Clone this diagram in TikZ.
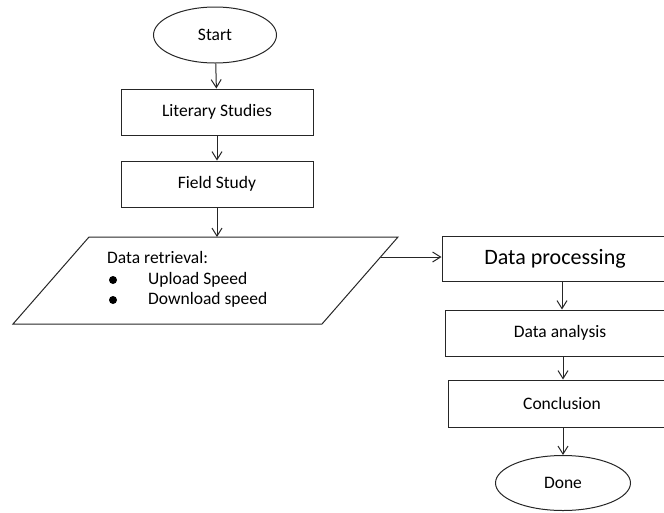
\documentclass[tikz,border=0pt]{standalone}
\usepackage{fontspec}
\setmainfont{Carlito}
\usetikzlibrary{shapes.geometric,arrows.meta}
\tikzset{
  lbl/.style={font=\fontsize{17.5}{20}\selectfont},
  box/.style={draw=black!85, line width=1pt, rectangle, inner sep=0pt, lbl},
  term/.style={draw=black!85, line width=1pt, ellipse, inner sep=0pt, lbl},
  arr/.style={draw=black!85, line width=1pt, -{Straight Barb[length=8pt,width=10pt,line width=1pt]}},
  txt/.style={lbl, inner sep=0pt, anchor=west}
}
\begin{document}
\begin{tikzpicture}[x=1pt,y=-1pt]
\useasboundingbox (0,0) rectangle (664,512);
\clip (0,0) rectangle (664,512);
\node[term, minimum width=123pt, minimum height=56pt] (start) at (215,35) {Start};
\node[box, minimum width=192pt, minimum height=46pt] (lit) at (217,112) {Literary Studies};
\node[box, minimum width=192pt, minimum height=46pt] (field) at (217,184) {Field Study};
% parallelogram
\coordinate (tl) at (89,237);
\coordinate (tr) at (398,237);
\coordinate (br) at (322,324);
\coordinate (bl) at (13,324);
\draw[black!85, line width=1pt] (tl) -- (tr) -- (br) -- (bl) -- cycle;
\coordinate (ptop) at (217,237);
\coordinate (pout) at (380.5,257);
\node[txt] (dr) at (107,257) {Data retrieval:};
\node[txt] (u1) at (148,280) {Upload Speed};
\node[txt] (u2) at (148,300) {Download speed};
\fill[black] (113,280) circle (4pt) coordinate (b1);
\fill[black] (113,300) circle (4pt) coordinate (b2);
\node[box, minimum width=234pt, minimum height=45pt, font=\fontsize{22}{25}\selectfont] (dp) at (559,258.5) {\hspace*{-8pt}Data processing};
\node[box, minimum width=230pt, minimum height=46pt] (da) at (560,333) {Data analysis};
\node[box, minimum width=228pt, minimum height=47pt] (con) at (562,403.5) {Conclusion};
\node[term, minimum width=135pt, minimum height=55pt] (done) at (563,483) {Done};
\draw[arr] (start) -- (lit);
\draw[arr] (lit) -- (field);
\draw[arr] (field.south) -- (ptop);
\draw[arr] (pout) -- (dp.west |- pout);
\draw[arr] (dp.south -| 562,0) -- (da.north -| 562,0);
\draw[arr] (da.south -| 563,0) -- (con.north -| 563,0);
\draw[arr] (con.south -| 563,0) -- (done.north);
\end{tikzpicture}
\end{document}
